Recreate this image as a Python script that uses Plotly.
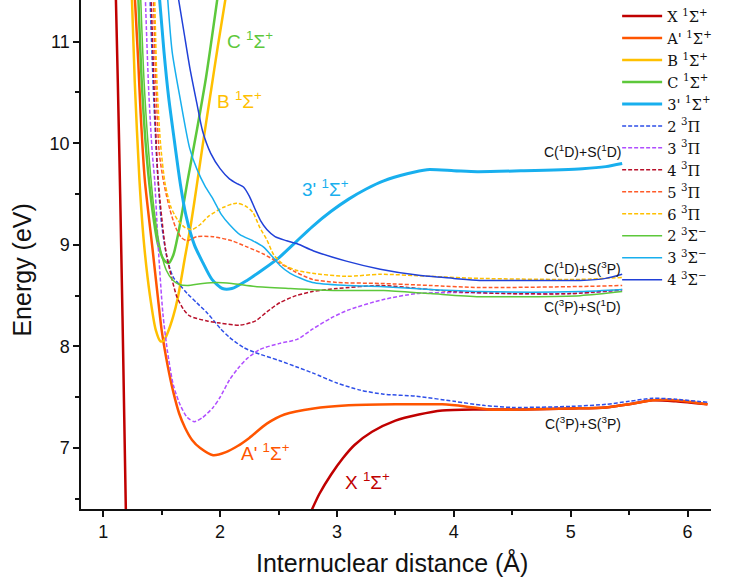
import plotly.graph_objects as go

# ---- potential energy curves of CS: internuclear distance (Å) vs energy (eV) ----
# X 1Σ+ (inner wall and outer branch, the well lies below the plotted window)
X_R = [1.108, 1.125, 1.145, 1.165, 1.18, 1.195, None,
       2.78, 2.85, 2.95, 3.05, 3.15, 3.3, 3.5, 3.7, 3.9, 4.2, 4.6, 5.0, 5.3, 5.5, 5.7, 5.9, 6.17]
X_E = [11.45, 10.6, 9.5, 8.3, 7.3, 6.3, None,
       6.38, 6.55, 6.74, 6.9, 7.03, 7.16, 7.27, 7.33, 7.37, 7.38, 7.38, 7.39, 7.40, 7.43, 7.47, 7.46, 7.43]

A_R = [1.27, 1.30, 1.32, 1.356, 1.42, 1.467, 1.50, 1.55, 1.60, 1.65, 1.70, 1.76, 1.83, 1.94,
       2.05, 2.15, 2.25, 2.4, 2.55, 2.8, 3.1, 3.5, 3.9, 4.1, 4.3, 4.6, 5.0, 5.3, 5.5, 5.7, 5.9, 6.17]
A_E = [11.45, 10.8, 10.3, 9.64, 8.98, 8.49, 8.16, 7.82, 7.55, 7.34, 7.2, 7.08, 7.0, 6.93,
       6.96, 7.02, 7.1, 7.24, 7.33, 7.39, 7.42, 7.43, 7.43, 7.41, 7.38, 7.38, 7.39, 7.40, 7.43, 7.47, 7.47, 7.43]

B_R = [1.245, 1.27, 1.31, 1.35, 1.40, 1.45, 1.49, 1.52, 1.55, 1.60, 1.64, 1.70, 1.75, 1.80,
       1.86, 1.92, 1.98, 2.05]
B_E = [11.45, 10.6, 9.64, 9.0, 8.5, 8.16, 8.05, 8.06, 8.13, 8.3, 8.49, 8.88, 9.2, 9.58,
       10.05, 10.5, 10.95, 11.45]

C_R = [1.30, 1.33, 1.37, 1.42, 1.47, 1.52, 1.56, 1.60, 1.64, 1.68, 1.72, 1.80, 1.88, 1.98]
C_E = [11.45, 10.6, 9.9, 9.35, 9.0, 8.85, 8.82, 8.9, 9.1, 9.35, 9.62, 10.12, 10.65, 11.45]

S3p_R = [1.48, 1.52, 1.56, 1.60, 1.66, 1.71, 1.78, 1.85, 1.93, 2.02, 2.1, 2.23, 2.37, 2.51,
         2.65, 2.79, 2.95, 3.1, 3.25, 3.4, 3.6, 3.77, 4.0, 4.2, 4.6, 5.1, 5.3, 5.44]
S3p_E = [11.45, 10.9, 10.45, 10.1, 9.6, 9.28, 9.0, 8.83, 8.66, 8.57, 8.57, 8.65, 8.76, 8.88,
         9.03, 9.18, 9.33, 9.45, 9.55, 9.63, 9.7, 9.74, 9.73, 9.72, 9.73, 9.75, 9.77, 9.8]

P2_R = [1.40, 1.43, 1.46, 1.50, 1.55, 1.60, 1.66, 1.72, 1.80, 1.89, 2.0, 2.08, 2.2, 2.3, 2.51,
        2.65, 2.79, 3.0, 3.2, 3.4, 3.68, 4.0, 4.25, 4.5, 5.0, 5.3, 5.5, 5.7, 5.9, 6.17]
P2_E = [11.45, 10.5, 9.8, 9.2, 8.85, 8.68, 8.6, 8.52, 8.43, 8.33, 8.18, 8.09, 7.99, 7.94, 7.86,
        7.8, 7.74, 7.64, 7.57, 7.53, 7.51, 7.46, 7.42, 7.40, 7.41, 7.43, 7.46, 7.49, 7.48, 7.45]

P3_R = [1.36, 1.39, 1.42, 1.44, 1.47, 1.51, 1.55, 1.60, 1.66, 1.72, 1.78, 1.85, 1.94, 2.0,
        2.08, 2.15, 2.23, 2.34, 2.51, 2.66, 2.79, 2.95, 3.1, 3.39, 3.68, 4.0, 4.5, 5.0, 5.44]
P3_E = [11.45, 10.5, 9.9, 9.64, 9.0, 8.33, 7.95, 7.62, 7.42, 7.3, 7.26, 7.3, 7.40, 7.5,
        7.67, 7.78, 7.88, 7.97, 8.03, 8.07, 8.17, 8.28, 8.36, 8.46, 8.52, 8.53, 8.52, 8.52, 8.55]

P4_R = [1.41, 1.44, 1.47, 1.53, 1.57, 1.63, 1.69, 1.74, 1.89, 2.0, 2.17, 2.3, 2.4, 2.51,
        2.65, 2.79, 3.0, 3.37, 3.7, 4.0, 4.5, 5.0, 5.44]
P4_E = [11.45, 10.4, 9.64, 8.98, 8.75, 8.49, 8.36, 8.3, 8.25, 8.23, 8.21, 8.25, 8.34, 8.43,
        8.5, 8.54, 8.57, 8.6, 8.57, 8.54, 8.52, 8.52, 8.56]

P5_R = [1.43, 1.45, 1.48, 1.52, 1.57, 1.62, 1.67, 1.72, 1.80, 1.94, 2.1, 2.23, 2.37, 2.51,
        2.65, 2.79, 3.0, 3.37, 3.8, 4.22, 5.08, 5.44]
P5_E = [11.45, 10.6, 9.9, 9.6, 9.35, 9.17, 9.07, 9.04, 9.08, 9.08, 9.04, 8.98, 8.91, 8.82,
        8.73, 8.66, 8.63, 8.62, 8.6, 8.58, 8.59, 8.6]

P6_R = [1.44, 1.46, 1.49, 1.53, 1.58, 1.64, 1.70, 1.76, 1.83, 1.9, 2.03, 2.14, 2.22, 2.28,
        2.34, 2.40, 2.46, 2.55, 2.65, 2.79, 3.08, 3.37, 3.8, 4.22, 5.08, 5.44]
P6_E = [11.45, 10.6, 10.0, 9.6, 9.37, 9.24, 9.17, 9.15, 9.2, 9.28, 9.37, 9.41, 9.38, 9.32,
        9.17, 9.05, 8.9, 8.8, 8.75, 8.72, 8.69, 8.71, 8.69, 8.67, 8.66, 8.68]

T2_R = [1.32, 1.35, 1.39, 1.44, 1.49, 1.54, 1.59, 1.65, 1.72, 1.85, 1.97, 2.1, 2.3, 2.6,
        3.0, 3.4, 3.8, 4.22, 5.08, 5.44]
T2_E = [11.45, 10.6, 9.9, 9.3, 8.95, 8.75, 8.66, 8.61, 8.6, 8.62, 8.63, 8.62, 8.59, 8.57,
        8.55, 8.55, 8.52, 8.49, 8.5, 8.54]

T3_R = [1.55, 1.59, 1.66, 1.74, 1.80, 1.87, 1.94, 2.01, 2.08, 2.17, 2.28, 2.37, 2.45, 2.51,
        2.6, 2.79, 3.1, 3.37, 3.8, 4.22, 5.08, 5.44]
T3_E = [11.45, 10.9, 10.43, 9.95, 9.75, 9.58, 9.45, 9.3, 9.2, 9.1, 9.04, 8.98, 8.88, 8.8,
        8.72, 8.63, 8.6, 8.59, 8.56, 8.54, 8.54, 8.56]

T4_R = [1.64, 1.69, 1.74, 1.80, 1.85, 1.92, 2.0, 2.08, 2.15, 2.2, 2.25, 2.3, 2.35, 2.40,
        2.47, 2.57, 2.66, 2.8, 3.08, 3.37, 3.7, 4.0, 4.22, 4.6, 5.08, 5.3, 5.44]
T4_E = [11.45, 11.1, 10.75, 10.4, 10.12, 9.9, 9.75, 9.65, 9.6, 9.57, 9.48, 9.35, 9.23, 9.15,
        9.08, 9.04, 9.01, 8.94, 8.84, 8.76, 8.7, 8.67, 8.65, 8.65, 8.65, 8.67, 8.71]

# state names and curve styles
states = [
    ("X <sup>1</sup>Σ<sup>+</sup>", X_R, X_E, "#C00000", 2.5, "solid"),
    ("A' <sup>1</sup>Σ<sup>+</sup>", A_R, A_E, "#FF5500", 2.5, "solid"),
    ("B <sup>1</sup>Σ<sup>+</sup>", B_R, B_E, "#FFC000", 2.5, "solid"),
    ("C <sup>1</sup>Σ<sup>+</sup>", C_R, C_E, "#5DC83B", 2.5, "solid"),
    ("3' <sup>1</sup>Σ<sup>+</sup>", S3p_R, S3p_E, "#18AFEE", 3.0, "solid"),
    ("2 <sup>3</sup>Π", P2_R, P2_E, "#2E4FE8", 1.5, "4px,2px"),
    ("3 <sup>3</sup>Π", P3_R, P3_E, "#B04EFF", 1.5, "4px,2px"),
    ("4 <sup>3</sup>Π", P4_R, P4_E, "#B8102A", 1.5, "4px,2px"),
    ("5 <sup>3</sup>Π", P5_R, P5_E, "#FF5A28", 1.5, "4px,2px"),
    ("6 <sup>3</sup>Π", P6_R, P6_E, "#FFC000", 1.5, "4px,2px"),
    ("2 <sup>3</sup>Σ<sup>−</sup>", T2_R, T2_E, "#5DC83B", 1.5, "solid"),
    ("3 <sup>3</sup>Σ<sup>−</sup>", T3_R, T3_E, "#18AFEE", 1.5, "solid"),
    ("4 <sup>3</sup>Σ<sup>−</sup>", T4_R, T4_E, "#2040D8", 1.5, "solid"),
]

fig = go.Figure()
for name, r, e, color, width, dash in states:
    fig.add_trace(go.Scatter(
        x=r, y=e, mode="lines", name=name,
        line=dict(color=color, width=width, dash=dash, shape="spline", smoothing=0.7),
        connectgaps=False,
    ))

# state labels beside the curves
state_labels = [
    ("C <sup>1</sup>Σ<sup>+</sup>", 2.26, 11.02, "#5DC83B"),
    ("B <sup>1</sup>Σ<sup>+</sup>", 2.17, 10.43, "#FFC000"),
    ("3' <sup>1</sup>Σ<sup>+</sup>", 2.90, 9.56, "#18AFEE"),
    ("A' <sup>1</sup>Σ<sup>+</sup>", 2.39, 6.96, "#FF5500"),
    ("X <sup>1</sup>Σ<sup>+</sup>", 3.26, 6.68, "#C00000"),
]
for text, r, e, color in state_labels:
    fig.add_annotation(x=r, y=e, text=text, showarrow=False, xref="x", yref="y",
                       font=dict(family="Liberation Sans", size=19, color=color))

# dissociation limits
limit_labels = [
    ("C(<sup>1</sup>D)+S(<sup>1</sup>D)", 5.45, 9.92),
    ("C(<sup>1</sup>D)+S(<sup>3</sup>P)", 5.45, 8.77),
    ("C(<sup>3</sup>P)+S(<sup>1</sup>D)", 5.45, 8.40),
    ("C(<sup>3</sup>P)+S(<sup>3</sup>P)", 5.45, 7.25),
]
for text, r, e in limit_labels:
    fig.add_annotation(x=r, y=e, text=text, showarrow=False, xref="x", yref="y",
                       xanchor="right", font=dict(family="Liberation Sans", size=14, color="#111"))

# axis titles
title_font = dict(family="Liberation Sans", size=25, color="#111")
fig.add_annotation(text="Energy (eV)", xref="paper", yref="paper", x=-0.094, y=0.47,
                   textangle=-90, showarrow=False, xanchor="center", yanchor="middle", font=title_font)
fig.add_annotation(text="Internuclear distance (Å)", xref="paper", yref="paper", x=0.494, y=-0.106,
                   showarrow=False, xanchor="center", yanchor="middle", font=title_font)

axis_font = dict(family="Liberation Sans", size=18, color="#111")
fig.update_xaxes(
    range=[0.81, 6.2], tickvals=[1, 2, 3, 4, 5, 6], ticks="outside", ticklen=6, tickwidth=1.5,
    minor=dict(tickvals=[1.5, 2.5, 3.5, 4.5, 5.5], ticks="outside", ticklen=4, tickwidth=1.5, tickcolor="#111"),
    showline=True, linecolor="#111", linewidth=1.5, showgrid=False, zeroline=False,
    tickfont=axis_font, tickcolor="#111",
)
fig.update_yaxes(
    range=[6.4, 11.41], tickvals=[7, 8, 9, 10, 11], ticks="outside", ticklen=6, tickwidth=1.5,
    minor=dict(tickvals=[6.5, 7.5, 8.5, 9.5, 10.5], ticks="outside", ticklen=4, tickwidth=1.5, tickcolor="#111"),
    showline=True, linecolor="#111", linewidth=1.5, showgrid=False, zeroline=False,
    tickfont=axis_font, tickcolor="#111",
)

fig.update_layout(
    width=731, height=581,
    margin=dict(l=81, r=20, t=0, b=72),
    plot_bgcolor="white", paper_bgcolor="white",
    showlegend=True,
    legend=dict(
        x=0.851, y=1.0, xanchor="left", yanchor="top",
        font=dict(family="DejaVu Serif", size=14.6, color="#111"),
        bgcolor="rgba(0,0,0,0)", itemwidth=40, tracegroupgap=0,
    ),
)

fig.write_html("out.html")
